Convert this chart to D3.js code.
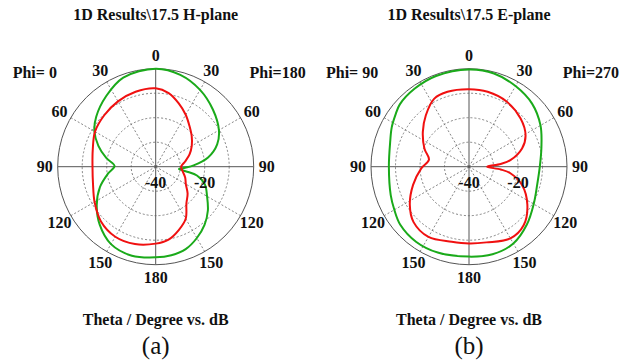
<!DOCTYPE html>
<html>
<head>
<meta charset="utf-8">
<script src="https://cdn.jsdelivr.net/npm/d3@7"></script>
<style>
  body { margin: 0; background: #fff; }
  text { font-family: "Liberation Serif", "Times New Roman", serif; fill: #111; }
  .bold { font-family: "Liberation Serif", "Times New Roman", serif; font-weight: bold; font-size: 16px; }
</style>
</head>
<body>
<div id="chart"></div>
<script>
// [theta in degrees, dB]
const hGreenLeft = [[0,0],[20,-1.3],[35,-4.8],[50,-8.3],[60,-11.1],[70,-15.1],[80,-19.5],[89,-23.2],[98,-20.4],[110,-15.8],[123,-11.3],[136,-7.1],[150,-3.5],[165,-2.4],[180,-2.9]];
const hGreenRight = [[0,0],[15,-1.2],[30,-3.8],[45,-7.0],[60,-10.2],[70,-13.3],[80,-18.3],[88,-24.5],[92,-28],[96,-30.5],[99,-27],[102,-22.8],[110,-18.6],[120,-15.8],[130,-12.2],[140,-9.0],[150,-6.4],[160,-4.2],[170,-3.3],[180,-3.0]];
const hRedLeft = [[0,-8],[15,-8.3],[30,-9.2],[45,-10.3],[60,-11.4],[75,-13.4],[90,-14.2],[105,-13.5],[120,-11.2],[135,-8.4],[150,-7.0],[165,-7.3],[180,-8.5]];
const hRedRight = [[0,-8],[10,-9.5],[20,-12.5],[30,-15.5],[40,-18.5],[50,-20.8],[60,-23],[70,-25.3],[80,-27.8],[90,-29.6],[100,-28.8],[110,-27.2],[120,-25.8],[130,-23],[140,-20.5],[150,-15.5],[160,-12.5],[170,-9.8],[180,-8.6]];

const eGreenLeft = [[0,-0.4],[20,-0.6],[35,-1.2],[48,-2.0],[55,-3.3],[63,-4.6],[72,-6.2],[90,-7.3],[110,-6.0],[120,-4.8],[130,-3.3],[145,-2.5],[160,-2.7],[180,-3.3]];
const eGreenRight = [[0,-0.3],[15,-0.6],[30,-2.0],[45,-3.6],[60,-6.3],[75,-9.4],[90,-11.1],[105,-11.2],[120,-9.5],[135,-6.6],[150,-3.8],[165,-3.0],[180,-3.3]];
const eRedLeft = [[0,-8.4],[16,-8.2],[27,-8.8],[40,-12.6],[53,-16.4],[68,-20.4],[80,-23.4],[92,-20.5],[108,-16],[123,-11.2],[135,-8],[150,-6.9],[167,-8.6],[180,-8.7]];
const eRedRight = [[0,-8.4],[14,-8.5],[30,-9.3],[47,-11.2],[61,-13.6],[71,-17.1],[81,-22.9],[85,-27],[90,-32.6],[95,-27],[99,-22.9],[109,-17.1],[123,-11.6],[137,-7.3],[150,-6.2],[167,-8.3],[180,-8.7]];

const thetaTicks = [0, 30, 60, 90, 120, 150, 180];
const ringTicks = [-30, -20, -10];
const panels = [
  { title: "1D Results\\17.5 H-plane", left: "Phi=\u00a00", right: "Phi=180", tag: "(a)", green: [hGreenLeft, hGreenRight], red: [hRedLeft, hRedRight] },
  { title: "1D Results\\17.5 E-plane", left: "Phi=\u00a090", right: "Phi=270", tag: "(b)", green: [eGreenLeft, eGreenRight], red: [eRedLeft, eRedRight] }
];

const width = 635, height = 363;
const R = 98;
const centers = [[155.7, 166.7], [469, 166.7]];
const gridColor = "#666";

const svg = d3.select("#chart").append("svg")
  .attr("width", width)
  .attr("height", height);

const r = d3.scaleLinear().domain([-40, 0]).range([0, R]);
const rad = d => d * Math.PI / 180;

const line = d3.lineRadial()
  .angle(d => d[0])
  .radius(d => r(d[1]))
  .curve(d3.curveCatmullRomClosed.alpha(0.5));

// right side runs clockwise 0..180, left side comes back up
function closedPattern(leftPts, rightPts) {
  const pts = rightPts.map(d => [rad(d[0]), d[1]]);
  leftPts.slice().reverse().forEach(d => {
    if (d[0] > 0 && d[0] < 180) pts.push([rad(-d[0]), d[1]]);
  });
  return pts;
}

panels.forEach((p, i) => {
  const [cx, cy] = centers[i];
  const g = svg.append("g").attr("transform", `translate(${cx},${cy})`);

  // rings
  g.selectAll("circle.ring")
    .data(ringTicks)
    .enter()
    .append("circle")
    .attr("r", d => r(d))
    .attr("fill", "none")
    .attr("stroke", gridColor)
    .attr("stroke-width", 0.8)
    .attr("stroke-dasharray", "2,2");

  g.append("circle")
    .attr("r", R)
    .attr("fill", "none")
    .attr("stroke", "#555")
    .attr("stroke-width", 1);

  // spokes, both sides
  const spokes = [30, 60, 120, 150].flatMap(t => [t, -t]);
  g.selectAll("line.spoke")
    .data(spokes)
    .enter()
    .append("line")
    .attr("x1", 0).attr("y1", 0)
    .attr("x2", d => R * Math.sin(rad(d)))
    .attr("y2", d => -R * Math.cos(rad(d)))
    .attr("stroke", gridColor)
    .attr("stroke-width", 0.8)
    .attr("stroke-dasharray", "2,2");

  g.append("line").attr("x1", -R).attr("x2", R).attr("y1", 0).attr("y2", 0)
    .attr("stroke", "#555").attr("stroke-width", 1);
  g.append("line").attr("x1", 0).attr("x2", 0).attr("y1", -R).attr("y2", R)
    .attr("stroke", "#555").attr("stroke-width", 1);

  // curves
  g.append("path")
    .attr("d", line(closedPattern(p.green[0], p.green[1])))
    .attr("fill", "none")
    .attr("stroke", "#1aaa1a")
    .attr("stroke-width", 2);

  g.append("path")
    .attr("d", line(closedPattern(p.red[0], p.red[1])))
    .attr("fill", "none")
    .attr("stroke", "#f01010")
    .attr("stroke-width", 2);

  // theta labels
  const labelAngles = thetaTicks.flatMap(t => (t === 0 || t === 180) ? [t] : [t, -t]);
  g.selectAll("text.theta")
    .data(labelAngles)
    .enter()
    .append("text")
    .attr("class", "bold")
    .attr("x", d => 111 * Math.sin(rad(d)))
    .attr("y", d => -111 * Math.cos(rad(d)))
    .attr("dy", "0.35em")
    .attr("text-anchor", "middle")
    .text(d => Math.abs(d));

  // dB labels
  g.selectAll("text.db")
    .data([-40, -20])
    .enter()
    .append("text")
    .attr("class", "bold")
    .attr("x", d => r(d))
    .attr("y", 15.6)
    .attr("dy", "0.35em")
    .attr("text-anchor", "middle")
    .text(d => d);

  g.append("text").attr("class", "bold")
    .attr("x", 0).attr("y", 20 - cy)
    .attr("text-anchor", "middle")
    .text(p.title);

  g.append("text").attr("class", "bold")
    .attr("x", -143).attr("y", 78 - cy)
    .attr("text-anchor", "start")
    .text(p.left);

  g.append("text").attr("class", "bold")
    .attr("x", 150).attr("y", 78 - cy)
    .attr("text-anchor", "end")
    .text(p.right);

  g.append("text").attr("class", "bold")
    .attr("x", 0).attr("y", 325 - cy)
    .attr("text-anchor", "middle")
    .text("Theta / Degree vs. dB");

  g.append("text")
    .attr("x", 0).attr("y", 354 - cy)
    .attr("text-anchor", "middle")
    .style("font-size", "25px")
    .text(p.tag);
});
</script>
</body>
</html>
